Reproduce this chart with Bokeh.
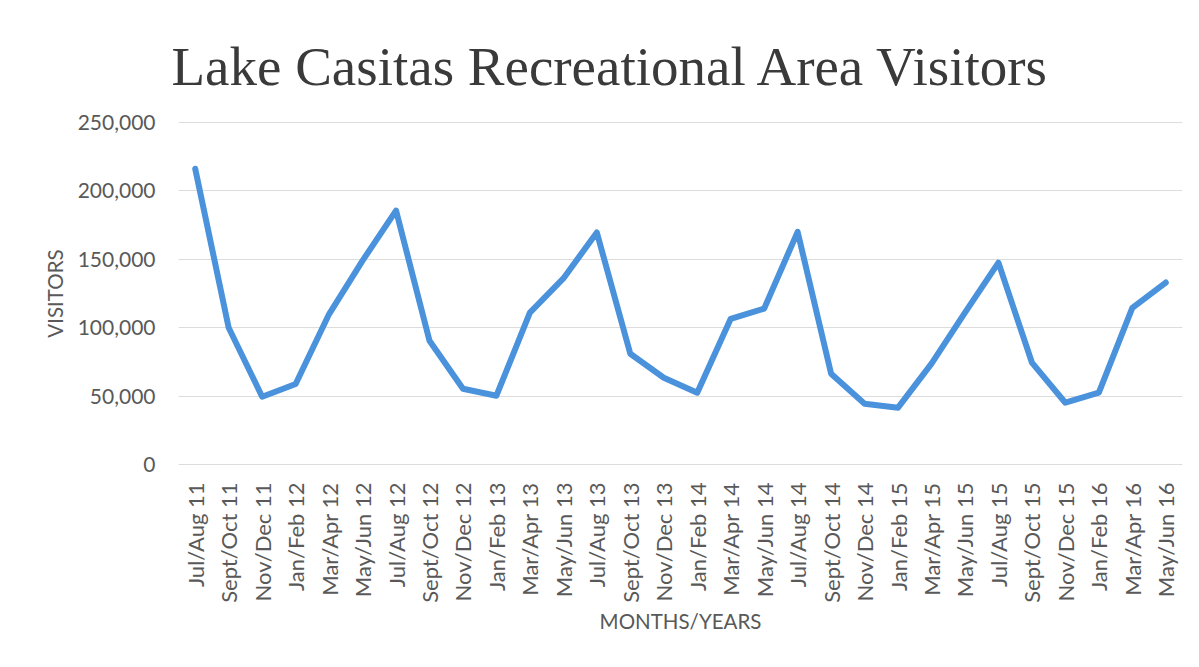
import math
from bokeh.plotting import figure
from bokeh.models import FactorRange, Range1d, FixedTicker, NumeralTickFormatter
from bokeh.embed import file_html
from bokeh.resources import INLINE

periods = ["Jul/Aug 11", "Sept/Oct 11", "Nov/Dec 11", "Jan/Feb 12", "Mar/Apr 12", "May/Jun 12",
           "Jul/Aug 12", "Sept/Oct 12", "Nov/Dec 12", "Jan/Feb 13", "Mar/Apr 13", "May/Jun 13",
           "Jul/Aug 13", "Sept/Oct 13", "Nov/Dec 13", "Jan/Feb 14", "Mar/Apr 14", "May/Jun 14",
           "Jul/Aug 14", "Sept/Oct 14", "Nov/Dec 14", "Jan/Feb 15", "Mar/Apr 15", "May/Jun 15",
           "Jul/Aug 15", "Sept/Oct 15", "Nov/Dec 15", "Jan/Feb 16", "Mar/Apr 16", "May/Jun 16"]
visitors = [216000, 100000, 49700, 59000, 110000, 149000,
            185500, 90500, 55500, 50400, 111000, 136000,
            169500, 81000, 63500, 52600, 106500, 114000,
            170000, 66500, 44600, 41700, 73800, 111000,
            147500, 74600, 45300, 52600, 114500, 133000]
y_ticks = [0, 50000, 100000, 150000, 200000, 250000]

TXT = "#595959"
FONT = "Lato"

p = figure(width=1190, height=650, output_backend="svg", toolbar_location=None,
           x_range=FactorRange(factors=periods, range_padding=0),
           y_range=Range1d(-500, 250500),
           min_border_left=178, min_border_right=8, min_border_top=121, min_border_bottom=185)

p.title.text = "Lake Casitas Recreational Area Visitors"
p.title.text_font = "Liberation Serif"
p.title.text_font_size = "55px"
p.title.text_font_style = "normal"
p.title.text_color = "#3a3a3a"
p.title.align = "left"
p.title.offset = -7
p.title.standoff = 49

p.line(x=periods, y=visitors, line_width=6, line_color="#4a92dc",
       line_join="round", line_cap="round")

p.outline_line_color = None
p.background_fill_color = "white"
p.border_fill_color = "white"

p.yaxis.ticker = FixedTicker(ticks=y_ticks)
p.yaxis.formatter = NumeralTickFormatter(format="0,0")
for ax in (p.xaxis[0], p.yaxis[0]):
    ax.axis_line_color = None
    ax.major_tick_line_color = None
    ax.minor_tick_line_color = None
    ax.major_label_text_font = FONT
    ax.major_label_text_color = TXT
    ax.axis_label_text_font = FONT
    ax.axis_label_text_font_size = "20.5px"
    ax.axis_label_text_font_style = "normal"
    ax.axis_label_text_color = TXT

p.yaxis.major_label_text_font_size = "21px"
p.xaxis.major_label_text_font_size = "22px"
p.yaxis.axis_label = "VISITORS"
p.yaxis.major_label_standoff = 17
p.yaxis.axis_label_standoff = 8
p.xaxis.axis_label = "MONTHS/YEARS"
p.xaxis.major_label_orientation = math.pi / 2
p.xaxis.major_label_standoff = 11
p.xaxis.axis_label_standoff = 3

p.xgrid.grid_line_color = None
p.ygrid.grid_line_color = "#dcdcdc"
p.ygrid.grid_line_width = 1

open("out.html", "w").write(file_html(p, INLINE))
